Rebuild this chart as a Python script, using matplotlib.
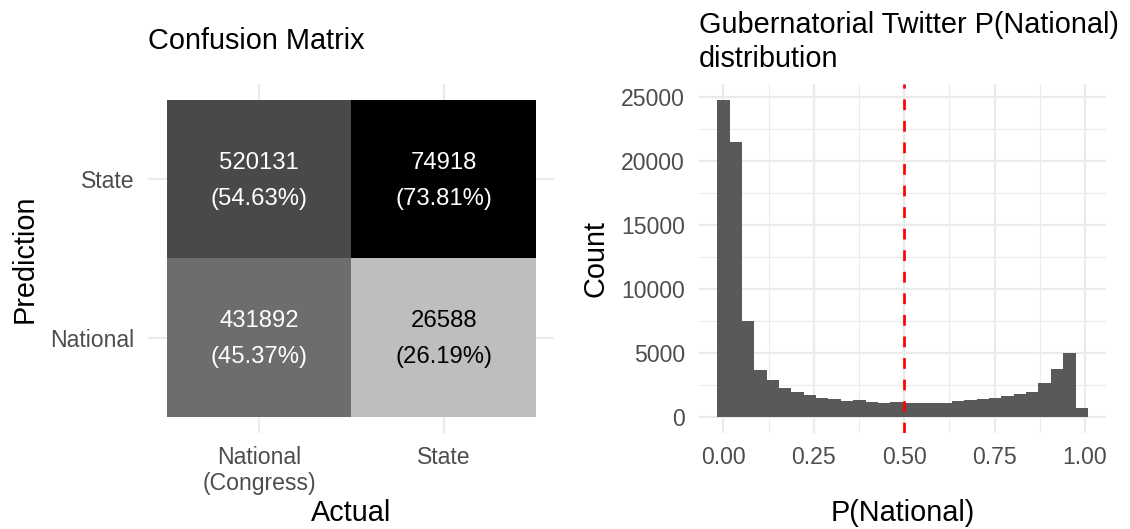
import numpy as np
import matplotlib.pyplot as plt
from matplotlib.colors import ListedColormap, Normalize
from matplotlib.ticker import MultipleLocator, FormatStrFormatter

plt.rcParams['font.family'] = ['Liberation Sans', 'DejaVu Sans']

# confusion matrix: rows = prediction (National, State), columns = actual
actual_labels = ['National\n(Congress)', 'State']
pred_labels = ['National', 'State']
cm_counts = [[431892, 26588],
             [520131, 74918]]

# histogram of P(National), 30 bins
hist_counts = [24750, 21500, 7500, 3620, 2840, 2210, 1900, 1670, 1430, 1350,
               1200, 1280, 1120, 1040, 1120, 1040, 1040, 1040, 1040, 1200,
               1280, 1350, 1430, 1590, 1745, 1900, 2600, 3700, 4950, 650]
bin_lo, bin_hi = -0.0166, 1.0079
threshold = 0.5

title_size = 20.8
label_size = 20.8
tick_size = 16.6
cell_size = 17.2
tick_col = '#4d4d4d'
grid_col = '#ebebeb'


def grey_from_lab(L):
    # CIE L* -> sRGB grey value
    Y = ((L + 16) / 116) ** 3 if L > 8 else L / 903.3
    v = 12.92 * Y if Y <= 0.0031308 else 1.055 * Y ** (1 / 2.4) - 0.055
    return min(max(v, 0), 1)


# R's "grey" (#bebebe) -> black, interpolated in Lab like scale_fill_gradient
L_low = 76.95
cmap = ListedColormap([(g, g, g) for g in
                       [grey_from_lab(L_low * (1 - t)) for t in np.linspace(0, 1, 256)]])

cm = np.array(cm_counts, dtype=float)
pct = cm / cm.sum(axis=0) * 100

fig = plt.figure(figsize=(11.3, 5.29), dpi=100)
ax1 = fig.add_axes([0.1314, 0.1824, 0.3593, 0.6584])
ax2 = fig.add_axes([0.6184, 0.1824, 0.3607, 0.6584])

# ---- confusion matrix ----
norm = Normalize(vmin=pct.min(), vmax=pct.max())
edges = np.arange(len(actual_labels) + 1) - 0.5
ax1.pcolormesh(edges, edges, pct, cmap=cmap, norm=norm, zorder=2)
for i in range(len(pred_labels)):
    for j in range(len(actual_labels)):
        col = 'black' if norm(pct[i, j]) < 0.25 else 'white'
        ax1.text(j, i - 0.01, f'{int(cm[i, j])}\n({pct[i, j]:.2f}%)', ha='center', va='center',
                 fontsize=cell_size, color=col, linespacing=1.85, zorder=3)

ax1.set_xlim(-0.6, 1.6)
ax1.set_ylim(-0.6, 1.6)
ax1.set_xticks(range(len(actual_labels)))
ax1.set_xticklabels(actual_labels, linespacing=1.15)
ax1.set_yticks(range(len(pred_labels)))
ax1.set_yticklabels(pred_labels)
ax1.set_xlabel('Actual', fontsize=label_size, va='baseline')
ax1.set_ylabel('Prediction', fontsize=label_size, va='baseline')
ax1.xaxis.set_label_coords(0.5, -0.254)
ax1.yaxis.set_label_coords(-0.2845, 0.5)

# ---- histogram ----
bins = np.linspace(bin_lo, bin_hi, len(hist_counts) + 1)
ax2.hist(bins[:-1], bins=bins, weights=hist_counts, color='#595959', zorder=2)
ax2.axvline(threshold, color='red', lw=1.94, ls=(0, (4, 4)), zorder=3)
ax2.use_sticky_edges = False
ax2.margins(0.05)
ax2.xaxis.set_major_locator(MultipleLocator(0.25))
ax2.xaxis.set_minor_locator(MultipleLocator(0.125))
ax2.yaxis.set_major_locator(MultipleLocator(5000))
ax2.yaxis.set_minor_locator(MultipleLocator(2500))
ax2.xaxis.set_major_formatter(FormatStrFormatter('%.2f'))
ax2.yaxis.set_major_formatter(FormatStrFormatter('%d'))
ax2.grid(which='minor', color=grid_col, lw=0.8, zorder=0)
ax2.set_xlabel('P(National)', fontsize=label_size, va='baseline')
ax2.set_ylabel('Count', fontsize=label_size, va='baseline')
ax2.xaxis.set_label_coords(0.5, -0.254)
ax2.yaxis.set_label_coords(-0.235, 0.5)

for ax in (ax1, ax2):
    ax.set_axisbelow(True)
    ax.grid(which='major', color=grid_col, lw=1.65, zorder=0)
    for s in ax.spines.values():
        s.set_visible(False)
    ax.tick_params(which='both', length=0, pad=10, labelsize=tick_size, labelcolor=tick_col)

fig.text(0.1314, (529 - 49) / 529, 'Confusion Matrix', fontsize=title_size, va='baseline')
fig.text(0.6184, (529 - 67) / 529, 'Gubernatorial Twitter P(National)\ndistribution',
         fontsize=title_size, va='baseline', linespacing=1.27)

fig.savefig('out.png', dpi=100)
